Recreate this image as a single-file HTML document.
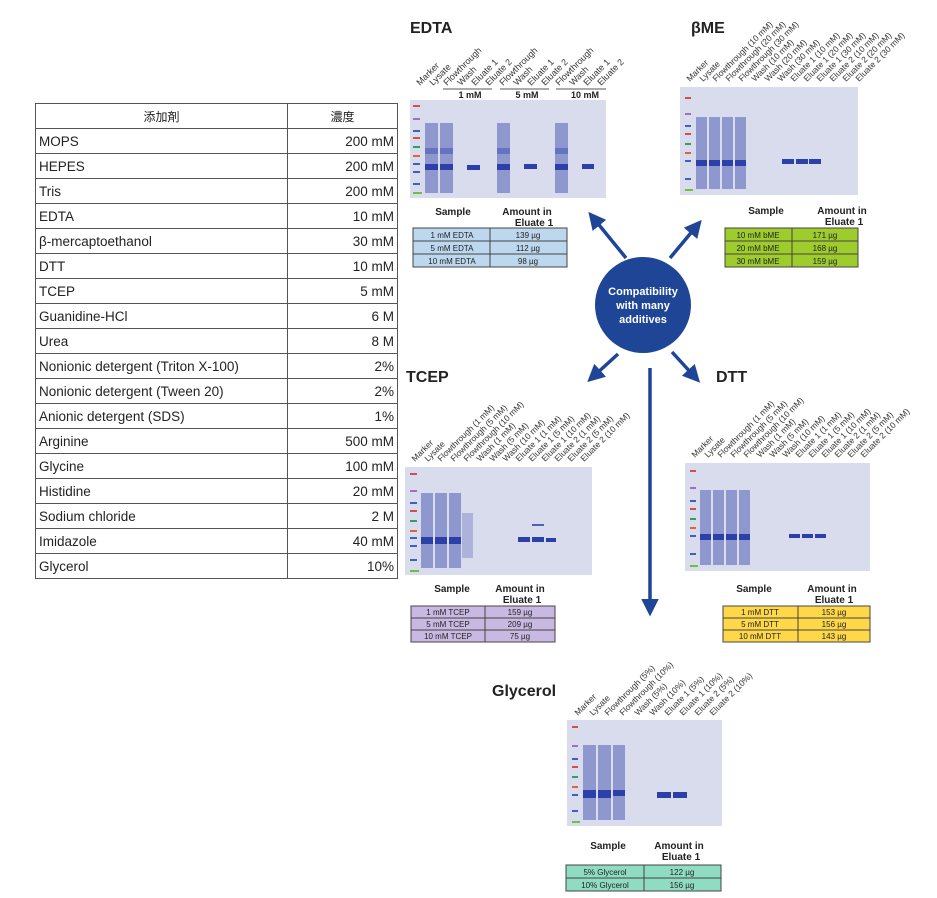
<!DOCTYPE html>
<html><head><meta charset="utf-8"><style>
body{margin:0;width:937px;height:898px;background:#fff;position:relative;overflow:hidden;font-family:"Liberation Sans","Noto Sans CJK JP",sans-serif}
table.add{position:absolute;left:35px;top:103px;border-collapse:collapse;font-size:13.5px;color:#222}
table.add td{border:1px solid #555;height:25px;padding:0 3px;box-sizing:border-box}
table.add td:first-child{width:252px}
table.add td:last-child{width:110px;text-align:right}
table.add tr:first-child td{text-align:center;font-size:12px}
</style></head><body>
<table class="add">
<tr><td>添加剤</td><td style="text-align:center">濃度</td></tr>
<tr><td>MOPS</td><td>200 mM</td></tr>
<tr><td>HEPES</td><td>200 mM</td></tr>
<tr><td>Tris</td><td>200 mM</td></tr>
<tr><td>EDTA</td><td>10 mM</td></tr>
<tr><td>β-mercaptoethanol</td><td>30 mM</td></tr>
<tr><td>DTT</td><td>10 mM</td></tr>
<tr><td>TCEP</td><td>5 mM</td></tr>
<tr><td>Guanidine-HCl</td><td>6 M</td></tr>
<tr><td>Urea</td><td>8 M</td></tr>
<tr><td>Nonionic detergent (Triton X-100)</td><td>2%</td></tr>
<tr><td>Nonionic detergent (Tween 20)</td><td>2%</td></tr>
<tr><td>Anionic detergent (SDS)</td><td>1%</td></tr>
<tr><td>Arginine</td><td>500 mM</td></tr>
<tr><td>Glycine</td><td>100 mM</td></tr>
<tr><td>Histidine</td><td>20 mM</td></tr>
<tr><td>Sodium chloride</td><td>2 M</td></tr>
<tr><td>Imidazole</td><td>40 mM</td></tr>
<tr><td>Glycerol</td><td>10%</td></tr>
</table>

<svg width="937" height="898" style="position:absolute;left:0;top:0" font-family="Liberation Sans, sans-serif">
<defs>
<marker id="ah" markerWidth="5" markerHeight="5" refX="2" refY="2.5" orient="auto" markerUnits="strokeWidth"><path d="M0,0 L5,2.5 L0,5 z" fill="#1f4597"/></marker>
</defs>
<g stroke="#1f4597" stroke-width="3.5" fill="none" marker-end="url(#ah)">
<line x1="626" y1="258" x2="595" y2="220"/>
<line x1="670" y1="258" x2="695" y2="228"/>
<line x1="618" y1="354" x2="595" y2="375"/>
<line x1="672" y1="352" x2="693" y2="375"/>
<line x1="650" y1="368" x2="650" y2="606"/>
</g>
<circle cx="643" cy="305" r="48" fill="#1f4597"/>
<g fill="#fff" font-weight="bold" font-size="11" text-anchor="middle">
<text x="643" y="295">Compatibility</text><text x="643" y="309">with many</text><text x="643" y="323">additives</text></g>

<g font-weight="bold" font-size="16" fill="#222">
<text x="410" y="33">EDTA</text><text x="691" y="33">βME</text>
<text x="406" y="382">TCEP</text><text x="716" y="382">DTT</text>
<text x="492" y="696">Glycerol</text></g>

<!-- EDTA -->
<g font-size="9" fill="#333">
<text transform="translate(420,86) rotate(-45)">Marker</text>
<text transform="translate(433,86) rotate(-45)">Lysate</text>
<text transform="translate(447,86) rotate(-45)">Flowthrough</text>
<text transform="translate(461,86) rotate(-45)">Wash</text>
<text transform="translate(475,86) rotate(-45)">Eluate 1</text>
<text transform="translate(489,86) rotate(-45)">Eluate 2</text>
<text transform="translate(503,86) rotate(-45)">Flowthrough</text>
<text transform="translate(517,86) rotate(-45)">Wash</text>
<text transform="translate(531,86) rotate(-45)">Eluate 1</text>
<text transform="translate(545,86) rotate(-45)">Eluate 2</text>
<text transform="translate(559,86) rotate(-45)">Flowthrough</text>
<text transform="translate(573,86) rotate(-45)">Wash</text>
<text transform="translate(587,86) rotate(-45)">Eluate 1</text>
<text transform="translate(601,86) rotate(-45)">Eluate 2</text>
</g>
<g stroke="#555" stroke-width="1"><line x1="443" y1="89" x2="492" y2="89"/><line x1="500" y1="89" x2="549" y2="89"/><line x1="556" y1="89" x2="606" y2="89"/></g>
<g font-size="9" font-weight="bold" fill="#222" text-anchor="middle"><text x="470" y="98">1 mM</text><text x="527" y="98">5 mM</text><text x="585" y="98">10 mM</text></g>
<rect x="410" y="100" width="196" height="98" fill="#d8dcec"/>
<g fill="#8e98cf"><rect x="425" y="123" width="13" height="70"/><rect x="440" y="123" width="13" height="70"/><rect x="497" y="123" width="13" height="70"/><rect x="555" y="123" width="13" height="70"/></g>
<g fill="#2d3fa8"><rect x="425" y="164" width="13" height="6"/><rect x="440" y="164" width="13" height="6"/><rect x="497" y="164" width="13" height="6"/><rect x="555" y="164" width="13" height="6"/><rect x="467" y="165" width="13" height="5"/><rect x="524" y="164" width="13" height="5"/><rect x="582" y="164" width="12" height="5"/></g>
<g fill="#4b5bb8" opacity=".6"><rect x="425" y="148" width="13" height="6"/><rect x="440" y="148" width="13" height="6"/><rect x="497" y="148" width="13" height="6"/><rect x="555" y="148" width="13" height="6"/></g>
<g><rect x="413" y="105" width="7" height="2" fill="#d05050"/><rect x="413" y="118" width="7" height="2" fill="#a070c0"/><rect x="413" y="130" width="7" height="2" fill="#4060c0"/><rect x="413" y="137" width="7" height="2" fill="#d05050"/><rect x="413" y="146" width="7" height="2" fill="#30a060"/><rect x="413" y="155" width="7" height="2" fill="#e06040"/><rect x="413" y="163" width="7" height="2" fill="#4060c0"/><rect x="413" y="171" width="7" height="2" fill="#4060c0"/><rect x="413" y="183" width="7" height="2" fill="#4060c0"/><rect x="413" y="192" width="9" height="2" fill="#70c040"/></g>
<g font-size="10" font-weight="bold" fill="#222" text-anchor="middle"><text x="453" y="215">Sample</text><text x="527" y="215">Amount in</text><text x="534" y="226">Eluate 1</text></g>
<g fill="#bcd7ee" stroke="#444" stroke-width="1"><rect x="413" y="228" width="77" height="13"/><rect x="490" y="228" width="77" height="13"/><rect x="413" y="241" width="77" height="13"/><rect x="490" y="241" width="77" height="13"/><rect x="413" y="254" width="77" height="13"/><rect x="490" y="254" width="77" height="13"/></g>
<g font-size="8" fill="#222" text-anchor="middle"><text x="452" y="238">1 mM EDTA</text><text x="528" y="238">139 µg</text><text x="452" y="251">5 mM EDTA</text><text x="528" y="251">112 µg</text><text x="452" y="264">10 mM EDTA</text><text x="528" y="264">98 µg</text></g>

<!-- bME -->
<g font-size="8.5" fill="#333">
<text transform="translate(690,82) rotate(-45)">Marker</text>
<text transform="translate(703,82) rotate(-45)">Lysate</text>
<text transform="translate(716,82) rotate(-45)">Flowthrough (10 mM)</text>
<text transform="translate(729,82) rotate(-45)">Flowthrough (20 mM)</text>
<text transform="translate(742,82) rotate(-45)">Flowthrough (30 mM)</text>
<text transform="translate(755,82) rotate(-45)">Wash (10 mM)</text>
<text transform="translate(768,82) rotate(-45)">Wash (20 mM)</text>
<text transform="translate(781,82) rotate(-45)">Wash (30 mM)</text>
<text transform="translate(794,82) rotate(-45)">Eluate 1 (10 mM)</text>
<text transform="translate(807,82) rotate(-45)">Eluate 1 (20 mM)</text>
<text transform="translate(820,82) rotate(-45)">Eluate 1 (30 mM)</text>
<text transform="translate(833,82) rotate(-45)">Eluate 2 (10 mM)</text>
<text transform="translate(846,82) rotate(-45)">Eluate 2 (20 mM)</text>
<text transform="translate(859,82) rotate(-45)">Eluate 2 (30 mM)</text>
</g>
<rect x="680" y="87" width="178" height="108" fill="#d8dcec"/>
<g fill="#8e98cf"><rect x="696" y="117" width="11" height="72"/><rect x="709" y="117" width="11" height="72"/><rect x="722" y="117" width="11" height="72"/><rect x="735" y="117" width="11" height="72"/></g>
<g fill="#2d3fa8"><rect x="696" y="160" width="11" height="6"/><rect x="709" y="160" width="11" height="6"/><rect x="722" y="160" width="11" height="6"/><rect x="735" y="160" width="11" height="6"/><rect x="782" y="159" width="12" height="5"/><rect x="796" y="159" width="12" height="5"/><rect x="809" y="159" width="12" height="5"/></g>
<g><rect x="685" y="97" width="6" height="2" fill="#d05050"/><rect x="685" y="113" width="6" height="2" fill="#a070c0"/><rect x="685" y="125" width="6" height="2" fill="#4060c0"/><rect x="685" y="133" width="6" height="2" fill="#d05050"/><rect x="685" y="143" width="6" height="2" fill="#30a060"/><rect x="685" y="152" width="6" height="2" fill="#e06040"/><rect x="685" y="160" width="6" height="2" fill="#4060c0"/><rect x="685" y="178" width="6" height="2" fill="#4060c0"/><rect x="685" y="189" width="8" height="2" fill="#70c040"/></g>
<g font-size="10" font-weight="bold" fill="#222" text-anchor="middle"><text x="766" y="214">Sample</text><text x="842" y="214">Amount in</text><text x="844" y="225">Eluate 1</text></g>
<g fill="#9dcc2c" stroke="#444" stroke-width="1"><rect x="725" y="228" width="67" height="13"/><rect x="792" y="228" width="66" height="13"/><rect x="725" y="241" width="67" height="13"/><rect x="792" y="241" width="66" height="13"/><rect x="725" y="254" width="67" height="13"/><rect x="792" y="254" width="66" height="13"/></g>
<g font-size="8" fill="#222" text-anchor="middle"><text x="758" y="238">10 mM bME</text><text x="825" y="238">171 µg</text><text x="758" y="251">20 mM bME</text><text x="825" y="251">168 µg</text><text x="758" y="264">30 mM bME</text><text x="825" y="264">159 µg</text></g>

<!-- TCEP -->
<g font-size="8.5" fill="#333">
<text transform="translate(415,462) rotate(-45)">Marker</text>
<text transform="translate(428,462) rotate(-45)">Lysate</text>
<text transform="translate(441,462) rotate(-45)">Flowthrough (1 mM)</text>
<text transform="translate(454,462) rotate(-45)">Flowthrough (5 mM)</text>
<text transform="translate(467,462) rotate(-45)">Flowthrough (10 mM)</text>
<text transform="translate(480,462) rotate(-45)">Wash (1 mM)</text>
<text transform="translate(493,462) rotate(-45)">Wash (5 mM)</text>
<text transform="translate(506,462) rotate(-45)">Wash (10 mM)</text>
<text transform="translate(519,462) rotate(-45)">Eluate 1 (1 mM)</text>
<text transform="translate(532,462) rotate(-45)">Eluate 1 (5 mM)</text>
<text transform="translate(545,462) rotate(-45)">Eluate 1 (10 mM)</text>
<text transform="translate(558,462) rotate(-45)">Eluate 2 (1 mM)</text>
<text transform="translate(571,462) rotate(-45)">Eluate 2 (5 mM)</text>
<text transform="translate(584,462) rotate(-45)">Eluate 2 (10 mM)</text>
</g>
<rect x="405" y="467" width="187" height="108" fill="#d8dcec"/>
<g fill="#8e98cf"><rect x="421" y="493" width="12" height="75"/><rect x="435" y="493" width="12" height="75"/><rect x="449" y="493" width="12" height="75"/><rect x="462" y="513" width="11" height="45" opacity=".6"/></g>
<g fill="#2d3fa8"><rect x="421" y="537" width="12" height="7"/><rect x="435" y="537" width="12" height="7"/><rect x="449" y="537" width="12" height="7"/><rect x="518" y="537" width="12" height="5"/><rect x="532" y="537" width="12" height="5"/><rect x="546" y="538" width="10" height="4"/></g>
<rect x="532" y="524" width="12" height="2" fill="#5060b8"/>
<g><rect x="410" y="473" width="7" height="2" fill="#d05050"/><rect x="410" y="490" width="7" height="2" fill="#a070c0"/><rect x="410" y="502" width="7" height="2" fill="#4060c0"/><rect x="410" y="510" width="7" height="2" fill="#d05050"/><rect x="410" y="520" width="7" height="2" fill="#30a060"/><rect x="410" y="530" width="7" height="2" fill="#e06040"/><rect x="410" y="537" width="7" height="2" fill="#4060c0"/><rect x="410" y="545" width="7" height="2" fill="#4060c0"/><rect x="410" y="559" width="7" height="2" fill="#4060c0"/><rect x="410" y="570" width="9" height="2" fill="#70c040"/></g>
<g font-size="10" font-weight="bold" fill="#222" text-anchor="middle"><text x="452" y="592">Sample</text><text x="520" y="592">Amount in</text><text x="522" y="603">Eluate 1</text></g>
<g fill="#c9b9e2" stroke="#444" stroke-width="1"><rect x="411" y="606" width="74" height="12"/><rect x="485" y="606" width="70" height="12"/><rect x="411" y="618" width="74" height="12"/><rect x="485" y="618" width="70" height="12"/><rect x="411" y="630" width="74" height="12"/><rect x="485" y="630" width="70" height="12"/></g>
<g font-size="8" fill="#222" text-anchor="middle"><text x="448" y="615">1 mM TCEP</text><text x="520" y="615">159 µg</text><text x="448" y="627">5 mM TCEP</text><text x="520" y="627">209 µg</text><text x="448" y="639">10 mM TCEP</text><text x="520" y="639">75 µg</text></g>

<!-- DTT -->
<g font-size="8.5" fill="#333">
<text transform="translate(695,458) rotate(-45)">Marker</text>
<text transform="translate(708,458) rotate(-45)">Lysate</text>
<text transform="translate(721,458) rotate(-45)">Flowthrough (1 mM)</text>
<text transform="translate(734,458) rotate(-45)">Flowthrough (5 mM)</text>
<text transform="translate(747,458) rotate(-45)">Flowthrough (10 mM)</text>
<text transform="translate(760,458) rotate(-45)">Wash (1 mM)</text>
<text transform="translate(773,458) rotate(-45)">Wash (5 mM)</text>
<text transform="translate(786,458) rotate(-45)">Wash (10 mM)</text>
<text transform="translate(799,458) rotate(-45)">Eluate 1 (1 mM)</text>
<text transform="translate(812,458) rotate(-45)">Eluate 1 (5 mM)</text>
<text transform="translate(825,458) rotate(-45)">Eluate 1 (10 mM)</text>
<text transform="translate(838,458) rotate(-45)">Eluate 2 (1 mM)</text>
<text transform="translate(851,458) rotate(-45)">Eluate 2 (5 mM)</text>
<text transform="translate(864,458) rotate(-45)">Eluate 2 (10 mM)</text>
</g>
<rect x="685" y="463" width="185" height="108" fill="#d8dcec"/>
<g fill="#8e98cf"><rect x="700" y="490" width="11" height="75"/><rect x="713" y="490" width="11" height="75"/><rect x="726" y="490" width="11" height="75"/><rect x="739" y="490" width="11" height="75"/></g>
<g fill="#2d3fa8"><rect x="700" y="534" width="11" height="6"/><rect x="713" y="534" width="11" height="6"/><rect x="726" y="534" width="11" height="6"/><rect x="739" y="534" width="11" height="6"/><rect x="789" y="534" width="11" height="4"/><rect x="802" y="534" width="11" height="4"/><rect x="815" y="534" width="11" height="4"/></g>
<g><rect x="690" y="470" width="6" height="2" fill="#d05050"/><rect x="690" y="487" width="6" height="2" fill="#a070c0"/><rect x="690" y="500" width="6" height="2" fill="#4060c0"/><rect x="690" y="508" width="6" height="2" fill="#d05050"/><rect x="690" y="518" width="6" height="2" fill="#30a060"/><rect x="690" y="527" width="6" height="2" fill="#e06040"/><rect x="690" y="535" width="6" height="2" fill="#4060c0"/><rect x="690" y="553" width="6" height="2" fill="#4060c0"/><rect x="690" y="565" width="8" height="2" fill="#70c040"/></g>
<g font-size="10" font-weight="bold" fill="#222" text-anchor="middle"><text x="754" y="592">Sample</text><text x="832" y="592">Amount in</text><text x="834" y="603">Eluate 1</text></g>
<g fill="#ffd84a" stroke="#444" stroke-width="1"><rect x="723" y="606" width="75" height="12"/><rect x="798" y="606" width="72" height="12"/><rect x="723" y="618" width="75" height="12"/><rect x="798" y="618" width="72" height="12"/><rect x="723" y="630" width="75" height="12"/><rect x="798" y="630" width="72" height="12"/></g>
<g font-size="8" fill="#222" text-anchor="middle"><text x="760" y="615">1 mM DTT</text><text x="834" y="615">153 µg</text><text x="760" y="627">5 mM DTT</text><text x="834" y="627">156 µg</text><text x="760" y="639">10 mM DTT</text><text x="834" y="639">143 µg</text></g>

<!-- Glycerol -->
<g font-size="8.5" fill="#333">
<text transform="translate(578,716) rotate(-45)">Marker</text>
<text transform="translate(593,716) rotate(-45)">Lysate</text>
<text transform="translate(608,716) rotate(-45)">Flowthrough (5%)</text>
<text transform="translate(623,716) rotate(-45)">Flowthrough (10%)</text>
<text transform="translate(638,716) rotate(-45)">Wash (5%)</text>
<text transform="translate(653,716) rotate(-45)">Wash (10%)</text>
<text transform="translate(668,716) rotate(-45)">Eluate 1 (5%)</text>
<text transform="translate(683,716) rotate(-45)">Eluate 1 (10%)</text>
<text transform="translate(698,716) rotate(-45)">Eluate 2 (5%)</text>
<text transform="translate(713,716) rotate(-45)">Eluate 2 (10%)</text>
</g>
<rect x="567" y="720" width="155" height="106" fill="#d8dcec"/>
<g fill="#8e98cf"><rect x="583" y="745" width="13" height="75"/><rect x="598" y="745" width="13" height="75"/><rect x="613" y="745" width="12" height="75"/></g>
<g fill="#2d3fa8"><rect x="583" y="790" width="13" height="8"/><rect x="598" y="790" width="13" height="8"/><rect x="613" y="790" width="12" height="6"/><rect x="657" y="792" width="14" height="6"/><rect x="673" y="792" width="14" height="6"/></g>
<g><rect x="572" y="726" width="6" height="2" fill="#d05050"/><rect x="572" y="745" width="6" height="2" fill="#a070c0"/><rect x="572" y="758" width="6" height="2" fill="#4060c0"/><rect x="572" y="766" width="6" height="2" fill="#d05050"/><rect x="572" y="776" width="6" height="2" fill="#30a060"/><rect x="572" y="786" width="6" height="2" fill="#e06040"/><rect x="572" y="794" width="6" height="2" fill="#4060c0"/><rect x="572" y="810" width="6" height="2" fill="#4060c0"/><rect x="572" y="821" width="8" height="2" fill="#70c040"/></g>
<g font-size="10" font-weight="bold" fill="#222" text-anchor="middle"><text x="608" y="849">Sample</text><text x="679" y="849">Amount in</text><text x="681" y="860">Eluate 1</text></g>
<g fill="#8fdcc3" stroke="#444" stroke-width="1"><rect x="566" y="865" width="78" height="13"/><rect x="644" y="865" width="77" height="13"/><rect x="566" y="878" width="78" height="13"/><rect x="644" y="878" width="77" height="13"/></g>
<g font-size="8" fill="#222" text-anchor="middle"><text x="605" y="875">5% Glycerol</text><text x="682" y="875">122 µg</text><text x="605" y="888">10% Glycerol</text><text x="682" y="888">156 µg</text></g>
</svg>
</body></html>
